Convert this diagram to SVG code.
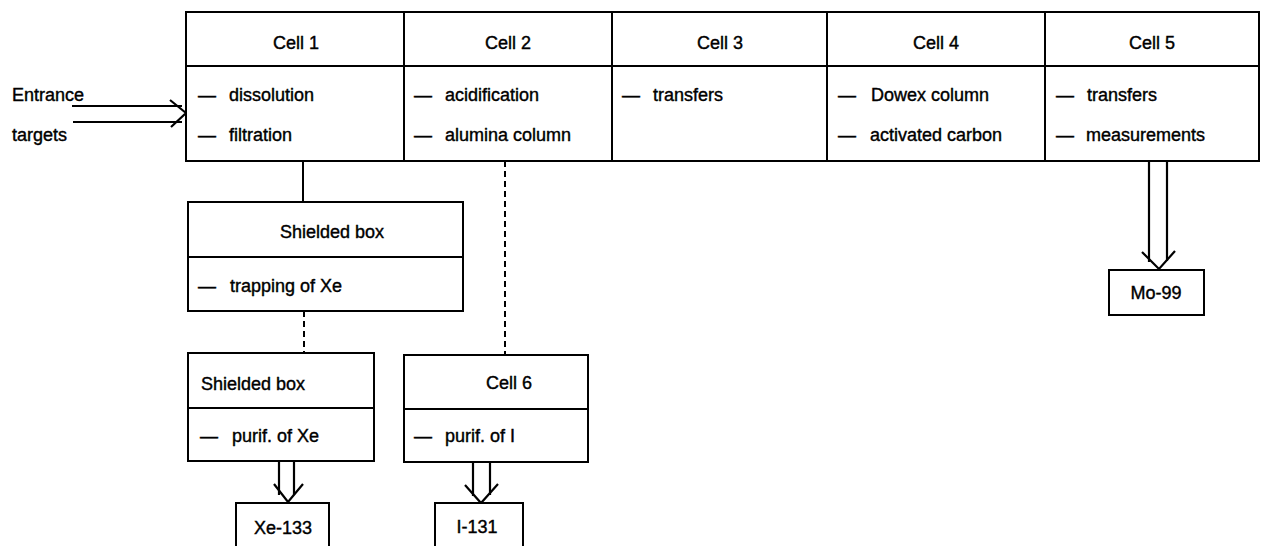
<svg xmlns="http://www.w3.org/2000/svg" width="1265" height="546" viewBox="0 0 1265 546">
<style>
.box{fill:#fff;stroke:#000;stroke-width:2}
.ln{stroke:#000;stroke-width:2;fill:none}
.dash{stroke:#000;stroke-width:2;fill:none;stroke-dasharray:6 4}
.arr{stroke:#000;stroke-width:2.2;fill:none;stroke-linejoin:miter}
text{font-family:"Liberation Sans",Arial,sans-serif;font-size:18px;fill:#000;stroke:#000;stroke-width:0.4}
.c{text-anchor:middle}
</style>
<rect width="1265" height="546" fill="#fff"/>
<g id="connectors">
<line class="ln" x1="303" y1="161" x2="303" y2="202"/>
<line class="dash" x1="304" y1="311" x2="304" y2="353"/>
<line class="dash" x1="505" y1="161" x2="505" y2="355"/>
<g id="entrance-arrow">
<line class="arr" x1="72" y1="106" x2="182" y2="106"/>
<line class="arr" x1="73" y1="122" x2="182" y2="122"/>
<polyline class="arr" points="170,100 186,113 171,127"/>
</g>
<g id="arrow-mo">
<line class="arr" x1="1149" y1="161" x2="1149" y2="262"/>
<line class="arr" x1="1167" y1="161" x2="1167" y2="261"/>
<polyline class="arr" points="1142,252 1159,269 1175,251"/>
</g>
<g id="arrow-xe">
<line class="arr" x1="279" y1="461" x2="279" y2="495"/>
<line class="arr" x1="294" y1="461" x2="294" y2="495"/>
<polyline class="arr" points="274,484 288,502 303,484"/>
</g>
<g id="arrow-i">
<line class="arr" x1="473" y1="462" x2="473" y2="496"/>
<line class="arr" x1="490" y1="462" x2="490" y2="495"/>
<polyline class="arr" points="465,485 481,503 498,484"/>
</g>
</g>
<g id="entrance-label">
<text x="12" y="101">Entrance</text>
<text x="12" y="141">targets</text>
</g>
<g id="cells">
<rect class="box" x="186" y="12" width="1073" height="149"/>
<line class="ln" x1="186" y1="66" x2="1259" y2="66"/>
<line class="ln" x1="404" y1="12" x2="404" y2="161"/>
<line class="ln" x1="612" y1="12" x2="612" y2="161"/>
<line class="ln" x1="827" y1="12" x2="827" y2="161"/>
<line class="ln" x1="1045" y1="12" x2="1045" y2="161"/>
</g>
<g id="cell1">
<text class="c" x="296" y="49">Cell 1</text>
<text y="101"><tspan x="198">—</tspan><tspan x="229">dissolution</tspan></text>
<text y="141"><tspan x="198">—</tspan><tspan x="229">filtration</tspan></text>
</g>
<g id="cell2">
<text class="c" x="508" y="49">Cell 2</text>
<text y="101"><tspan x="414">—</tspan><tspan x="445">acidification</tspan></text>
<text y="141"><tspan x="414">—</tspan><tspan x="445">alumina column</tspan></text>
</g>
<g id="cell3">
<text class="c" x="720" y="49">Cell 3</text>
<text y="101"><tspan x="622">—</tspan><tspan x="653">transfers</tspan></text>
</g>
<g id="cell4">
<text class="c" x="936" y="49">Cell 4</text>
<text y="101"><tspan x="838">—</tspan><tspan x="871">Dowex column</tspan></text>
<text y="141"><tspan x="838">—</tspan><tspan x="870">activated carbon</tspan></text>
</g>
<g id="cell5">
<text class="c" x="1152" y="49">Cell 5</text>
<text y="101"><tspan x="1056">—</tspan><tspan x="1087">transfers</tspan></text>
<text y="141"><tspan x="1056">—</tspan><tspan x="1086">measurements</tspan></text>
</g>
<g id="shielded-box-1">
<rect class="box" x="188" y="202" width="275" height="109"/>
<line class="ln" x1="188" y1="257" x2="463" y2="257"/>
<text x="280" y="238">Shielded box</text>
<text y="292"><tspan x="198">—</tspan><tspan x="230">trapping of Xe</tspan></text>
</g>
<g id="shielded-box-2">
<rect class="box" x="188" y="353" width="186" height="108"/>
<line class="ln" x1="188" y1="408" x2="374" y2="408"/>
<text x="201" y="390">Shielded box</text>
<text y="442"><tspan x="200">—</tspan><tspan x="232">purif. of Xe</tspan></text>
</g>
<g id="cell6">
<rect class="box" x="404" y="355" width="184" height="107"/>
<line class="ln" x1="404" y1="409" x2="588" y2="409"/>
<text class="c" x="509" y="389">Cell 6</text>
<text y="442"><tspan x="414">—</tspan><tspan x="445">purif. of I</tspan></text>
</g>
<g id="mo99">
<rect class="box" x="1109" y="270" width="95" height="45"/>
<text class="c" x="1156" y="299">Mo-99</text>
</g>
<g id="xe133">
<rect class="box" x="236" y="503" width="93" height="60"/>
<text class="c" x="283" y="534">Xe-133</text>
</g>
<g id="i131">
<rect class="box" x="435" y="503" width="88" height="60"/>
<text class="c" x="477" y="533">I-131</text>
</g>
</svg>
